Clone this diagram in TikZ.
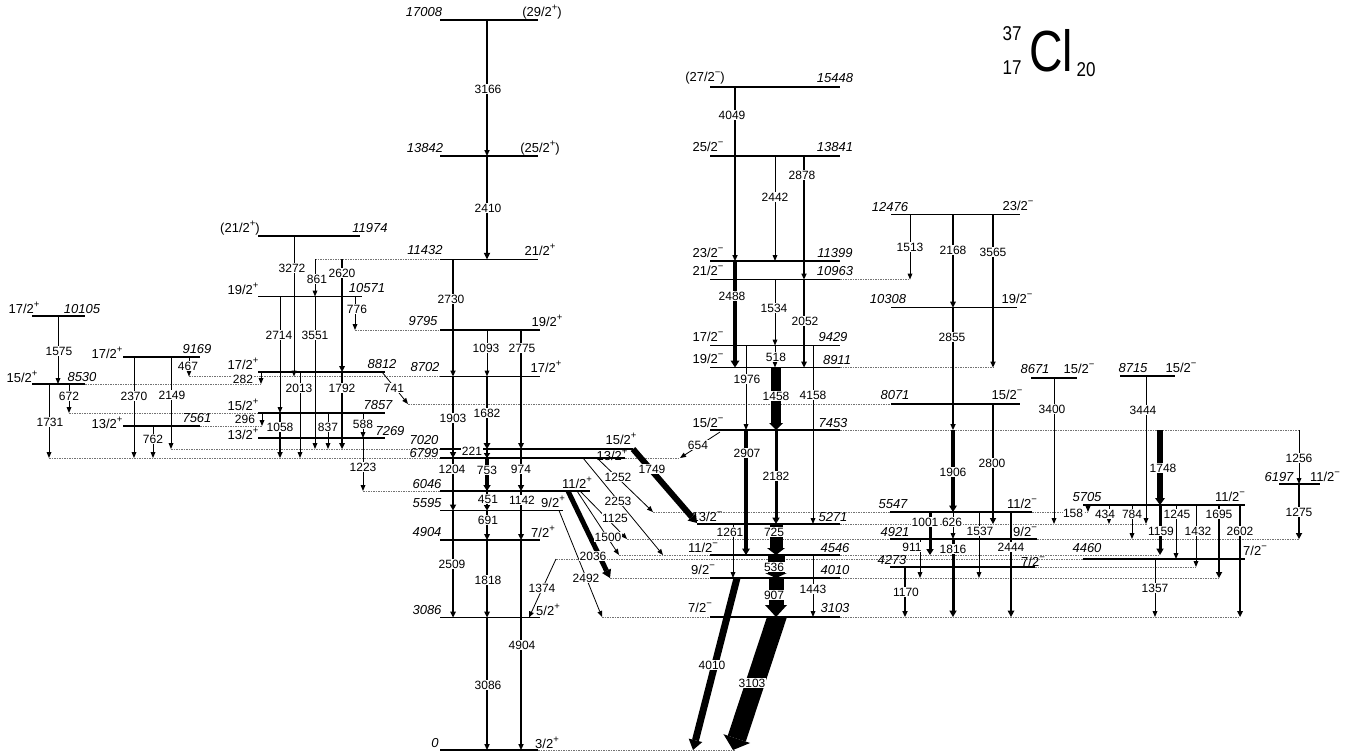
\documentclass[tikz,border=0pt]{standalone}
\usepackage{fontspec}
\usepackage{graphicx}
\setmainfont{Liberation Sans}
\usetikzlibrary{arrows.meta}
\newcommand\Jp[2]{#1\raisebox{0.45em}{\fontsize{9.5}{9.5}\selectfont#2}}
\newcommand\lvl[3]{\draw[lev] (#2,#1) -- (#3,#1);}
\newcommand\xtn[3]{\draw[ext] (#2,#1) -- (#3,#1);}
\begin{document}
\begin{tikzpicture}[x=1pt,y=-1pt,
  lev/.style={line width=1.3pt},
  ext/.style={line width=0.7pt,black!55,dash pattern=on 1.5pt off 1pt},
  tr/.style={line width=0.8pt,-{Triangle[length=6pt,width=5pt,line width=0pt]}},
  tt/.style n args={3}{line width=#1,-{Triangle[length=#2,width=#3,line width=0pt]}},
  gl/.style={font=\fontsize{12}{12}\selectfont,fill=white,inner sep=0.5pt},
  en/.style={font=\fontsize{13}{13}\selectfont\itshape,inner sep=0pt},
  sp/.style={font=\fontsize{13}{13}\selectfont,inner sep=0pt},
]
\useasboundingbox (0,0) rectangle (1362,755);
% ---------- extensions ----------
\xtn{750}{538}{735}
\xtn{617}{602}{710}\xtn{617}{840}{1240}
\xtn{578}{610}{710}\xtn{578}{840}{1219}
\xtn{567}{1035}{1196}
\xtn{559}{556}{1083}
\xtn{555}{619}{710}\xtn{555}{840}{1160}
\xtn{539}{627}{890}\xtn{539}{1037}{1299}
\xtn{524}{840}{1147}
\xtn{512}{653}{890}\xtn{512}{1032}{1088}
\xtn{491}{363}{440}
\xtn{458}{49}{440}\xtn{458}{625}{680}
\xtn{449}{171}{440}
\xtn{430}{840}{1299}
\xtn{426}{200}{262}
\xtn{413}{69}{258}
\xtn{404}{408}{891}
\xtn{384}{85}{261}
\xtn{376.5}{189}{440}
\xtn{367.5}{840}{993}
\xtn{330}{355}{440}
\xtn{279.5}{840}{910}
\xtn{259.3}{315}{440}
% ---------- levels ----------
\lvl{20}{440}{538}\lvl{156}{440}{538}\lvl{259.3}{440}{538}
\lvl{330}{440}{540}\lvl{376.5}{440}{540}\lvl{449}{440}{633}
\lvl{458}{440}{625}\lvl{491}{440}{590}\lvl{510.5}{440}{563}
\lvl{540}{440}{540}\lvl{617.5}{440}{540}\lvl{750}{440}{538}
\lvl{316}{32}{85}\lvl{384}{32}{85}\lvl{357}{123}{200}\lvl{426}{123}{200}
\lvl{236}{258}{360}\lvl{296.5}{258}{362}\lvl{372}{258}{385}
\lvl{413}{258}{385}\lvl{438}{258}{385}
\lvl{87}{710}{840}\lvl{156}{710}{840}\lvl{261}{710}{840}
\lvl{279.5}{710}{840}\lvl{345.5}{710}{840}\lvl{367.5}{710}{840}
\lvl{430}{710}{840}\lvl{524}{697}{840}\lvl{555}{710}{840}
\lvl{578}{710}{840}\lvl{617}{710}{840}
\lvl{214.5}{891}{1020}\lvl{307.6}{891}{1017}\lvl{404}{891}{1020}
\lvl{378}{1031}{1077}\lvl{376}{1120}{1175}
\lvl{512}{890}{1032}\lvl{539}{890}{1037}\lvl{567}{890}{1035}
\lvl{505}{1083}{1245}\lvl{559}{1083}{1245}\lvl{484}{1279}{1320}
% ---------- transitions: centre positive ----------
\draw[tt={1.3pt}{6pt}{5.5pt}] (487,20) -- (487,156);
\draw[tt={2.2pt}{6.5pt}{6.5pt}] (487,156) -- (487,259.3);
\draw[tt={1.3pt}{6pt}{5.5pt}] (453,259.3) -- (453,376.5);
\draw[tr] (487,330) -- (487,376.5);
\draw[tt={1.6pt}{6pt}{6pt}] (521,330) -- (521,449);
\draw[tt={2pt}{6pt}{6.5pt}] (453,376.5) -- (453,458);
\draw[tt={2.7pt}{6pt}{7pt}] (487,376.5) -- (487,449);
\draw[tt={2.2pt}{5pt}{6.5pt}] (487,449) -- (487,458);
\draw[tt={2pt}{6pt}{6.5pt}] (521,449) -- (521,491);
\draw[tt={2pt}{6pt}{6.5pt}] (453,458) -- (453,510.5);
\draw[tt={3.5pt}{6pt}{7.5pt}] (487,458) -- (487,491);
\draw[tt={2pt}{5.5pt}{6.5pt}] (487,491) -- (487,510.5);
\draw[tt={1.6pt}{6pt}{6pt}] (521,491) -- (521,540);
\draw[tt={1.8pt}{6pt}{6pt}] (487,510.5) -- (487,540);
\draw[tt={1.8pt}{6pt}{6pt}] (453,510.5) -- (453,617.5);
\draw[tt={1.8pt}{6pt}{6pt}] (487,540) -- (487,617.5);
\draw[tt={1.2pt}{6pt}{5.5pt}] (487,617.5) -- (487,750);
\draw[tt={1.2pt}{6pt}{5.5pt}] (521,540) -- (521,750);
\draw[tr] (556,559) -- (529,617.5);
\draw[tr] (363,438) -- (363,491);
\draw[tr] (363,413) -- (363,438);
% ---------- left group ----------
\draw[tr] (58,316) -- (58,384);
\draw[tr] (189,357) -- (189,376.5);
\draw[tr] (69,384) -- (69,413);
\draw[tr] (49,384) -- (49,458);
\draw[tr] (134,357) -- (134,458);
\draw[tr] (171,357) -- (171,449);
\draw[tr] (153,426) -- (153,458);
\draw[tr] (261,372) -- (261,384);
\draw[tr] (262,413) -- (262,426);
\draw[tr] (294,236) -- (294,376.5);
\draw[tr] (315,259.3) -- (315,296.5);
\draw[tt={1.6pt}{6pt}{6pt}] (342,259.3) -- (342,372);
\draw[tr] (355,296.5) -- (355,330);
\draw[tr] (280,296.5) -- (280,413);
\draw[tr] (315,296.5) -- (315,449);
\draw[tr] (300,372) -- (300,458);
\draw[tt={1.6pt}{6pt}{6pt}] (342,372) -- (342,449);
\draw[tr] (382,372) -- (408,404);
\draw[tt={1.3pt}{6pt}{5.5pt}] (280,413) -- (280,458);
\draw[tr] (328,413) -- (328,449);
% ---------- centre diagonals ----------
\draw[tt={6pt}{8pt}{11pt}] (633,449) -- (697,523);
\draw[tr] (720,432) -- (680,458);
\draw[tr] (597,458) -- (653,512);
\draw[tr] (583,458) -- (663,555);
\draw[tr] (580,491) -- (627,539);
\draw[tr] (577,491) -- (619,555);
\draw[tt={5pt}{8pt}{10pt}] (568,491) -- (610,578);
\draw[tr] (559,510.5) -- (602,617);
% ---------- negative column ----------
\draw[tt={1.2pt}{6pt}{5.5pt}] (735,87) -- (735,261);
\draw[tr] (775,156) -- (775,261);
\draw[tt={1.3pt}{6pt}{5.5pt}] (804,156) -- (804,279.5);
\draw[tt={4pt}{7pt}{9pt}] (735,261) -- (735,367.5);
\draw[tr] (775,279.5) -- (775,345.5);
\draw[tt={1.8pt}{6pt}{6pt}] (804,279.5) -- (804,367.5);
\draw[tr] (775,345.5) -- (775,367.5);
\draw[tr] (746,345.5) -- (746,430);
\draw[tr] (813,345.5) -- (813,524);
\draw[tt={10pt}{7pt}{14pt}] (776,367.5) -- (776,430);
\draw[tt={3.5pt}{6.5pt}{8pt}] (746,430) -- (746,555);
\draw[tt={3pt}{6.5pt}{7.5pt}] (776,430) -- (776,524);
\draw[tr] (733,524) -- (733,578);
\draw[tt={13pt}{7pt}{18pt}] (776,524) -- (776,555);
\draw[tt={17pt}{5pt}{22pt}] (776,555) -- (776,578);
\draw[tt={15pt}{12pt}{22pt}] (776,578) -- (776,617);
\draw[tr] (813,555) -- (813,617);
\begin{scope}
  \clip (640,578) rectangle (820,760);
  \draw[tt={7pt}{10pt}{14pt}] (737.9,574.5) -- (693,750);
\end{scope}
\begin{scope}
  \clip (640,617) rectangle (820,760);
  \draw[tt={19pt}{12pt}{28pt}] (779.6,609) -- (733,750);
\end{scope}
% ---------- right group ----------
\draw[tr] (910,214.5) -- (910,279.5);
\draw[tt={1.6pt}{6pt}{6pt}] (953,214.5) -- (953,307.6);
\draw[tt={1.3pt}{6pt}{5.5pt}] (993,214.5) -- (993,367.5);
\draw[tt={1.3pt}{6pt}{5.5pt}] (953,307.6) -- (953,430);
\draw[tt={3.5pt}{6.5pt}{8pt}] (953,430) -- (953,512);
\draw[tt={2pt}{6pt}{6.5pt}] (993,404) -- (993,524);
\draw[tr] (1054,378) -- (1054,524);
\draw[tr] (1146,376) -- (1146,524);
\draw[tt={6pt}{7pt}{10pt}] (1160,430) -- (1160,505);
\draw[tr] (1299,430) -- (1299,484);
\draw[tt={2pt}{6pt}{6.5pt}] (1299,484) -- (1299,539);
\draw[tt={3pt}{6pt}{7.5pt}] (930,512) -- (930,555);
\draw[tr] (953,512) -- (953,539);
\draw[tt={3pt}{6.5pt}{7.5pt}] (953,539) -- (953,617);
\draw[tr] (920,539) -- (920,578);
\draw[tr] (979,512) -- (979,578);
\draw[tt={2.5pt}{6.5pt}{7pt}] (1011,512) -- (1011,617);
\draw[tt={1.3pt}{6pt}{5.5pt}] (905,567) -- (905,617);
\draw[tr] (1088,505) -- (1088,512);
\draw[tr] (1109,505) -- (1109,524);
\draw[tr] (1132,505) -- (1132,539);
\draw[tr] (1176,505) -- (1176,559);
\draw[tt={3pt}{6.5pt}{7.5pt}] (1160,505) -- (1160,555);
\draw[tr] (1196,505) -- (1196,567);
\draw[tt={2pt}{6pt}{6.5pt}] (1219,505) -- (1219,578);
\draw[tt={1.4pt}{6pt}{6pt}] (1240,505) -- (1240,617);
\draw[tr] (1155,559) -- (1155,617);
% ---------- transition labels ----------
\foreach \x/\y/\t in {488/89/3166,488/208/2410,451/299/2730,486/348/1093,522/348/2775,
  453/418/1903,487/413/1682,472/451/221,452/469/1204,487/470/753,521/469/974,
  488/499/451,522/500/1142,488/520/691,452/564/2509,488/580/1818,542/588/1374,
  488/685/3086,522/645/4904,652/469/1749,698/445/654,618/477/1252,618/501/2253,
  615/518/1125,608/537/1500,593/556/2036,586/578/2492,
  59/351/1575,188/366/467,69/396/672,50/422/1731,134/396/2370,172/395/2149,153/439/762,
  292/268/3272,317/279/861,342/273/2620,357/309/776,279/335/2714,315/335/3551,
  299/388/2013,342/388/1792,394/388/741,280/427/1058,328/427/837,363/424/588,
  363/467/1223,243/379/282,245/419/296,
  732/115/4049,775/197/2442,802/175/2878,732/296/2488,774/308/1534,805/321/2052,
  776/357/518,747/379/1976,813/395/4158,776/396/1458,747/453/2907,776/476/2182,
  730/532/1261,774/532/725,774/567/536,774/595/907,813/589/1443,712/665/4010,752/683/3103,
  910/247/1513,953/250/2168,993/252/3565,952/337/2855,953/472/1906,992/463/2800,
  1052/409/3400,1143/410/3444,1163/468/1748,1299/458/1256,1299/512/1275,
  925/522/1001,952/522/626,953/549/1816,912/547/911,980/531/1537,1011/547/2444,
  906/592/1170,1073/513/158,1105/514/434,1132/514/784,1177/514/1245,1161/531/1159,
  1198/531/1432,1219/514/1695,1240/531/2602,1155/588/1357}
  \node[gl] (g\t) at (\x,\y) {\t};
% ---------- level labels: energies ----------
\foreach \x/\y/\t in {424/12/17008,425/148/13842,425/250/11432,423/321/9795,425/367/8702,
  424/440/7020,424/453/6799,427/484/6046,427/503/5595,427/532/4904,427/610/3086,435/743/0,
  82/309/10105,82/377/8530,197/349/9169,197/418/7561,370/228/11974,367/288/10571,
  382/364/8812,378/405/7857,390/431/7269,
  835/78/15448,835/147/13841,835/253/11399,835/271/10963,833/337/9429,837/360/8911,
  833/423/7453,833/517/5271,835/548/4546,835/570/4010,835/608/3103,
  890/207/12476,888/299/10308,895/395/8071,1035/369/8671,1133/368/8715,893/504/5547,
  895/532/4921,892/560/4273,1087/497/5705,1087/548/4460,1279/477/6197}
  \node[en] (e\t) at (\x,\y) {\t};
% ---------- level labels: spins ----------
\node[sp] (s17008) at (542,12) {(\Jp{29/2}{+})};
\node[sp] (s13842) at (540,148) {(\Jp{25/2}{+})};
\node[sp] (s11432) at (540,250) {\Jp{21/2}{+}};
\node[sp] (s9795) at (547,321) {\Jp{19/2}{+}};
\node[sp] (s8702) at (546,367) {\Jp{17/2}{+}};
\node[sp] (s7020) at (621,439) {\Jp{15/2}{+}};
\node[sp] (s6799) at (612,455) {\Jp{13/2}{+}};
\node[sp] (s6046) at (577,483) {\Jp{11/2}{+}};
\node[sp] (s5595) at (553,502) {\Jp{9/2}{+}};
\node[sp] (s4904) at (543,532) {\Jp{7/2}{+}};
\node[sp] (s3086) at (548,610) {\Jp{5/2}{+}};
\node[sp] (s0) at (547,743) {\Jp{3/2}{+}};
\node[sp] (s10105) at (24,308) {\Jp{17/2}{+}};
\node[sp] (s8530) at (22,377) {\Jp{15/2}{+}};
\node[sp] (s9169) at (107,353) {\Jp{17/2}{+}};
\node[sp] (s7561) at (107,423) {\Jp{13/2}{+}};
\node[sp] (s11974) at (240,228) {(\Jp{21/2}{+})};
\node[sp] (s10571) at (243,289) {\Jp{19/2}{+}};
\node[sp] (s8812) at (243,364) {\Jp{17/2}{+}};
\node[sp] (s7857) at (243,405) {\Jp{15/2}{+}};
\node[sp] (s7269) at (243,434) {\Jp{13/2}{+}};
\node[sp] (s15448) at (705,78) {(\Jp{27/2}{−})};
\node[sp] (s13841) at (708,147) {\Jp{25/2}{−}};
\node[sp] (s11399) at (708,253) {\Jp{23/2}{−}};
\node[sp] (s10963) at (708,271) {\Jp{21/2}{−}};
\node[sp] (s9429) at (708,337) {\Jp{17/2}{−}};
\node[sp] (s8911) at (708,359) {\Jp{19/2}{−}};
\node[sp] (s7453) at (708,423) {\Jp{15/2}{−}};
\node[sp] (s5271) at (707,517) {\Jp{13/2}{−}};
\node[sp] (s4546) at (703,548) {\Jp{11/2}{−}};
\node[sp] (s4010) at (703,570) {\Jp{9/2}{−}};
\node[sp] (s3103) at (700,608) {\Jp{7/2}{−}};
\node[sp] (s12476) at (1018,206) {\Jp{23/2}{−}};
\node[sp] (s10308) at (1017,299) {\Jp{19/2}{−}};
\node[sp] (s8071) at (1007,395) {\Jp{15/2}{−}};
\node[sp] (s8671) at (1079,369) {\Jp{15/2}{−}};
\node[sp] (s8715) at (1181,368) {\Jp{15/2}{−}};
\node[sp] (s5547) at (1022,504) {\Jp{11/2}{−}};
\node[sp] (s4921) at (1025,532) {\Jp{9/2}{−}};
\node[sp] (s4273) at (1033,562) {\Jp{7/2}{−}};
\node[sp] (s5705) at (1230,497) {\Jp{11/2}{−}};
\node[sp] (s4460) at (1255,551) {\Jp{7/2}{−}};
\node[sp] (s6197) at (1325,477) {\Jp{11/2}{−}};
% ---------- title ----------
\node[inner sep=0pt] (cl) at (1051,51) {\scalebox{0.8}[1]{\fontsize{58}{58}\selectfont Cl}};
\node[inner sep=0pt] (amass) at (1012,34) {\scalebox{0.85}[1]{\fontsize{20}{20}\selectfont 37}};
\node[inner sep=0pt] (zz) at (1012,68) {\scalebox{0.85}[1]{\fontsize{20}{20}\selectfont 17}};
\node[inner sep=0pt] (nn) at (1086,70) {\scalebox{0.85}[1]{\fontsize{20}{20}\selectfont 20}};
\end{tikzpicture}
\end{document}
